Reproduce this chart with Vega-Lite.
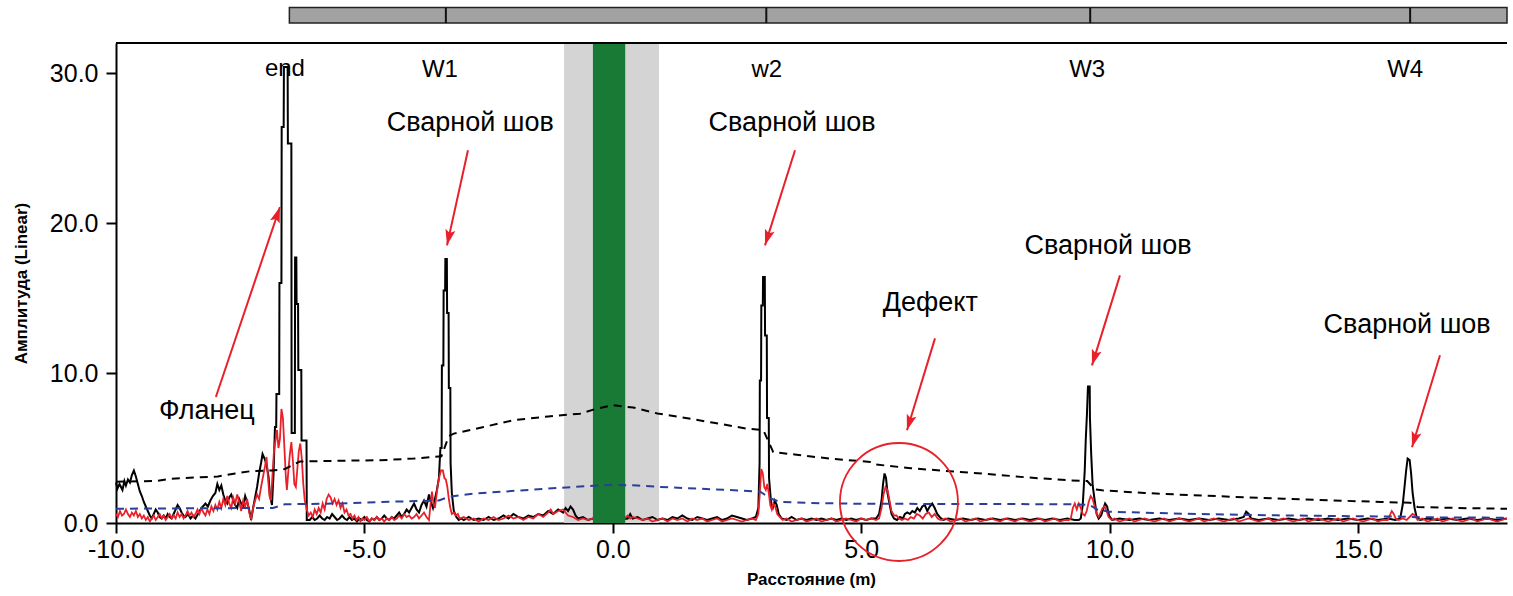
{
  "$schema": "https://vega.github.io/schema/vega-lite/v6.json",
  "width": 1391,
  "height": 480,
  "autosize": {"type": "none"},
  "padding": {"left": 116, "top": 43, "right": 6, "bottom": 73},
  "background": "white",
  "config": {
    "view": {"stroke": null},
    "font": "Liberation Sans",
    "axis": {"grid": false, "domainColor": "#000", "domainWidth": 2, "tickColor": "#000", "tickWidth": 2, "tickSize": 10,
      "labelFont": "Liberation Sans", "labelFontSize": 25, "labelColor": "#000",
      "titleFont": "Liberation Sans", "titleFontSize": 17, "titleFontWeight": "bold", "titleColor": "#000"}
  },
  "datasets": {
    "black": [
      {"x":-10,"y":2.7},{"x":-9.97,"y":2.3},{"x":-9.93,"y":2.6},{"x":-9.9,"y":2.4},{"x":-9.87,"y":2.2},{"x":-9.83,"y":2.8},{"x":-9.8,"y":2.5},{"x":-9.76,"y":2.9},{"x":-9.72,"y":2.7},{"x":-9.68,"y":3.2},{"x":-9.64,"y":3.5},{"x":-9.6,"y":3.1},{"x":-9.56,"y":2.6},{"x":-9.52,"y":2.1},{"x":-9.48,"y":1.8},{"x":-9.44,"y":1.4},{"x":-9.4,"y":1.1},{"x":-9.36,"y":0.8},{"x":-9.32,"y":0.5},{"x":-9.28,"y":0.3},{"x":-9.24,"y":0.6},{"x":-9.2,"y":0.9},{"x":-9.16,"y":0.7},{"x":-9.12,"y":0.4},{"x":-9.08,"y":0.3},{"x":-9.04,"y":0.5},{"x":-9.0,"y":0.3},{"x":-8.96,"y":0.6},{"x":-8.92,"y":0.4},{"x":-8.88,"y":0.3},{"x":-8.84,"y":0.6},{"x":-8.8,"y":0.9},{"x":-8.76,"y":1.2},{"x":-8.72,"y":1.0},{"x":-8.68,"y":0.7},{"x":-8.64,"y":0.5},{"x":-8.6,"y":0.4},{"x":-8.55,"y":0.6},{"x":-8.5,"y":0.3},{"x":-8.45,"y":0.5},{"x":-8.4,"y":0.3},{"x":-8.35,"y":0.6},{"x":-8.3,"y":0.9},{"x":-8.25,"y":1.1},{"x":-8.2,"y":1.3},{"x":-8.15,"y":1.1},{"x":-8.1,"y":1.5},{"x":-8.05,"y":1.8},{"x":-8.0,"y":2.0},{"x":-7.96,"y":2.6},{"x":-7.92,"y":2.2},{"x":-7.88,"y":2.5},{"x":-7.84,"y":1.9},{"x":-7.8,"y":1.5},{"x":-7.76,"y":1.3},{"x":-7.72,"y":1.7},{"x":-7.68,"y":1.9},{"x":-7.64,"y":1.5},{"x":-7.6,"y":1.2},{"x":-7.56,"y":1.0},{"x":-7.52,"y":1.6},{"x":-7.48,"y":1.3},{"x":-7.44,"y":1.1},{"x":-7.4,"y":1.8},{"x":-7.36,"y":1.4},{"x":-7.32,"y":0.9},{"x":-7.28,"y":0.2},{"x":-7.24,"y":1.0},{"x":-7.2,"y":1.7},{"x":-7.16,"y":2.4},{"x":-7.12,"y":3.3},{"x":-7.08,"y":4.0},{"x":-7.05,"y":4.6},{"x":-7.01,"y":4.3},{"x":-6.97,"y":3.9},{"x":-6.93,"y":3.1},{"x":-6.9,"y":1.8},{"x":-6.86,"y":1.2},{"x":-6.83,"y":3.2},{"x":-6.8,"y":6.4},{"x":-6.775,"y":6.4},{"x":-6.77,"y":8.6},{"x":-6.715,"y":8.6},{"x":-6.71,"y":16.0},{"x":-6.67,"y":16.0},{"x":-6.665,"y":26.4},{"x":-6.625,"y":26.4},{"x":-6.62,"y":30.4},{"x":-6.545,"y":30.4},{"x":-6.54,"y":25.3},{"x":-6.47,"y":25.3},{"x":-6.465,"y":6.0},{"x":-6.4,"y":6.0},{"x":-6.395,"y":17.7},{"x":-6.37,"y":17.7},{"x":-6.365,"y":14.6},{"x":-6.335,"y":14.6},{"x":-6.33,"y":10.2},{"x":-6.27,"y":10.2},{"x":-6.265,"y":5.5},{"x":-6.165,"y":5.5},{"x":-6.16,"y":0.2},
      {"x":-6.1,"y":0.2},{"x":-6.05,"y":0.4},{"x":-6.0,"y":0.2},{"x":-5.95,"y":0.3},{"x":-5.9,"y":0.5},{"x":-5.85,"y":0.3},{"x":-5.8,"y":0.2},{"x":-5.75,"y":0.4},{"x":-5.7,"y":0.3},{"x":-5.65,"y":0.6},{"x":-5.6,"y":0.4},{"x":-5.55,"y":0.2},{"x":-5.5,"y":0.3},{"x":-5.45,"y":0.5},{"x":-5.4,"y":0.3},{"x":-5.35,"y":0.2},{"x":-5.3,"y":0.4},{"x":-5.25,"y":0.2},{"x":-5.2,"y":0.3},{"x":-5.15,"y":0.1},{"x":-5.1,"y":0.3},{"x":-5.05,"y":0.2},{"x":-5.0,"y":0.4},{"x":-4.95,"y":0.2},{"x":-4.9,"y":0.1},{"x":-4.85,"y":0.3},{"x":-4.8,"y":0.2},{"x":-4.75,"y":0.4},{"x":-4.7,"y":0.2},{"x":-4.65,"y":0.3},{"x":-4.6,"y":0.5},{"x":-4.55,"y":0.3},{"x":-4.5,"y":0.2},{"x":-4.45,"y":0.4},{"x":-4.4,"y":0.3},{"x":-4.35,"y":0.5},{"x":-4.3,"y":0.7},{"x":-4.25,"y":0.4},{"x":-4.2,"y":0.6},{"x":-4.15,"y":0.9},{"x":-4.1,"y":0.7},{"x":-4.05,"y":1.0},{"x":-4.0,"y":1.3},{"x":-3.95,"y":0.9},{"x":-3.9,"y":0.7},{"x":-3.85,"y":1.2},{"x":-3.8,"y":1.5},{"x":-3.75,"y":1.1},{"x":-3.7,"y":1.9},{"x":-3.66,"y":1.4},{"x":-3.62,"y":1.0},{"x":-3.58,"y":1.6},{"x":-3.54,"y":2.2},{"x":-3.5,"y":3.0},{"x":-3.47,"y":5.0},{"x":-3.445,"y":5.0},{"x":-3.44,"y":10.5},{"x":-3.41,"y":10.5},{"x":-3.405,"y":15.5},{"x":-3.375,"y":15.5},{"x":-3.37,"y":17.6},{"x":-3.34,"y":17.6},{"x":-3.335,"y":14.0},{"x":-3.305,"y":14.0},{"x":-3.3,"y":9.0},{"x":-3.27,"y":9.0},{"x":-3.265,"y":4.0},{"x":-3.24,"y":2.0},{"x":-3.2,"y":0.8},{"x":-3.15,"y":0.4},{"x":-3.1,"y":0.2},
      {"x":-3.05,"y":0.3},{"x":-3.0,"y":0.2},{"x":-2.9,"y":0.4},{"x":-2.8,"y":0.2},{"x":-2.7,"y":0.3},{"x":-2.6,"y":0.2},{"x":-2.5,"y":0.4},{"x":-2.4,"y":0.2},{"x":-2.3,"y":0.3},{"x":-2.2,"y":0.5},{"x":-2.1,"y":0.3},{"x":-2.0,"y":0.6},{"x":-1.9,"y":0.4},{"x":-1.8,"y":0.3},{"x":-1.7,"y":0.5},{"x":-1.6,"y":0.4},{"x":-1.5,"y":0.6},{"x":-1.4,"y":0.5},{"x":-1.3,"y":0.8},{"x":-1.2,"y":0.6},{"x":-1.1,"y":0.9},{"x":-1.0,"y":0.7},{"x":-0.95,"y":1.0},{"x":-0.9,"y":0.8},{"x":-0.85,"y":1.1},{"x":-0.8,"y":0.9},{"x":-0.75,"y":0.5},{"x":-0.7,"y":0.3},{"x":-0.6,"y":0.4},{"x":-0.5,"y":0.2},{"x":-0.4,"y":0.3},{"x":0.0,"y":0.2},{"x":0.3,"y":0.3},{"x":0.35,"y":0.6},{"x":0.4,"y":0.3},{"x":0.5,"y":0.4},{"x":0.6,"y":0.2},{"x":0.7,"y":0.3},{"x":0.8,"y":0.4},{"x":0.9,"y":0.2},{"x":1.0,"y":0.3},{"x":1.1,"y":0.2},{"x":1.2,"y":0.4},{"x":1.3,"y":0.3},{"x":1.4,"y":0.5},{"x":1.5,"y":0.3},{"x":1.6,"y":0.2},{"x":1.7,"y":0.4},{"x":1.8,"y":0.3},{"x":1.9,"y":0.2},{"x":2.0,"y":0.3},{"x":2.1,"y":0.4},{"x":2.2,"y":0.2},{"x":2.3,"y":0.3},{"x":2.4,"y":0.5},{"x":2.5,"y":0.4},{"x":2.6,"y":0.3},{"x":2.7,"y":0.2},{"x":2.8,"y":0.3},{"x":2.88,"y":0.4},
      {"x":2.93,"y":1.0},{"x":2.955,"y":4.0},{"x":2.96,"y":9.5},{"x":2.985,"y":9.5},{"x":2.99,"y":14.5},{"x":3.02,"y":14.5},{"x":3.025,"y":16.4},{"x":3.06,"y":16.4},{"x":3.065,"y":12.5},{"x":3.1,"y":12.5},{"x":3.105,"y":7.0},{"x":3.14,"y":7.0},{"x":3.145,"y":3.0},{"x":3.19,"y":1.2},{"x":3.22,"y":1.0},{"x":3.26,"y":1.5},{"x":3.3,"y":1.2},{"x":3.34,"y":0.6},{"x":3.4,"y":0.3},
      {"x":3.5,"y":0.2},{"x":3.6,"y":0.4},{"x":3.7,"y":0.2},{"x":3.8,"y":0.3},{"x":3.9,"y":0.2},{"x":4.0,"y":0.3},{"x":4.1,"y":0.2},{"x":4.2,"y":0.3},{"x":4.3,"y":0.2},{"x":4.4,"y":0.3},{"x":4.5,"y":0.2},{"x":4.6,"y":0.3},{"x":4.7,"y":0.2},{"x":4.8,"y":0.3},{"x":4.9,"y":0.2},{"x":5.0,"y":0.3},{"x":5.1,"y":0.2},{"x":5.2,"y":0.3},{"x":5.3,"y":0.3},
      {"x":5.36,"y":0.6},{"x":5.41,"y":1.5},{"x":5.44,"y":2.6},{"x":5.47,"y":3.3},{"x":5.5,"y":3.0},{"x":5.53,"y":2.0},{"x":5.57,"y":1.3},{"x":5.61,"y":0.6},{"x":5.66,"y":0.3},{"x":5.72,"y":0.2},{"x":5.78,"y":0.4},{"x":5.84,"y":0.3},{"x":5.88,"y":0.6},{"x":5.93,"y":0.7},{"x":5.98,"y":0.6},{"x":6.03,"y":0.8},{"x":6.08,"y":0.7},{"x":6.13,"y":1.0},{"x":6.18,"y":0.8},{"x":6.23,"y":1.1},{"x":6.28,"y":1.2},{"x":6.33,"y":0.8},{"x":6.38,"y":1.1},{"x":6.43,"y":1.3},{"x":6.48,"y":1.0},{"x":6.53,"y":0.6},{"x":6.58,"y":0.4},{"x":6.65,"y":0.2},
      {"x":6.75,"y":0.3},{"x":6.9,"y":0.2},{"x":7.05,"y":0.3},{"x":7.2,"y":0.2},{"x":7.35,"y":0.3},{"x":7.5,"y":0.2},{"x":7.65,"y":0.3},{"x":7.8,"y":0.2},{"x":7.95,"y":0.3},{"x":8.1,"y":0.2},{"x":8.25,"y":0.3},{"x":8.4,"y":0.2},{"x":8.55,"y":0.3},{"x":8.7,"y":0.2},{"x":8.85,"y":0.3},{"x":9.0,"y":0.2},{"x":9.15,"y":0.3},{"x":9.3,"y":0.2},{"x":9.38,"y":0.2},
      {"x":9.42,"y":0.3},{"x":9.46,"y":1.2},{"x":9.5,"y":3.5},{"x":9.52,"y":5.5},{"x":9.545,"y":7.3},{"x":9.565,"y":9.1},{"x":9.6,"y":9.1},{"x":9.605,"y":7.0},{"x":9.63,"y":4.6},{"x":9.66,"y":2.5},{"x":9.7,"y":1.5},{"x":9.74,"y":0.6},{"x":9.78,"y":0.3},{"x":9.83,"y":0.5},{"x":9.87,"y":0.9},{"x":9.91,"y":1.3},{"x":9.95,"y":1.1},{"x":9.99,"y":0.5},{"x":10.05,"y":0.2},
      {"x":10.2,"y":0.3},{"x":10.4,"y":0.2},{"x":10.6,"y":0.3},{"x":10.8,"y":0.2},{"x":11.0,"y":0.3},{"x":11.2,"y":0.2},{"x":11.4,"y":0.3},{"x":11.6,"y":0.2},{"x":11.8,"y":0.3},{"x":12.0,"y":0.2},{"x":12.2,"y":0.3},{"x":12.4,"y":0.2},{"x":12.6,"y":0.3},{"x":12.7,"y":0.4},{"x":12.75,"y":0.75},{"x":12.8,"y":0.6},{"x":12.85,"y":0.3},{"x":13.0,"y":0.2},{"x":13.2,"y":0.3},{"x":13.4,"y":0.2},{"x":13.6,"y":0.3},{"x":13.8,"y":0.2},{"x":14.0,"y":0.3},{"x":14.2,"y":0.2},{"x":14.4,"y":0.3},{"x":14.6,"y":0.2},{"x":14.8,"y":0.3},{"x":15.0,"y":0.2},{"x":15.2,"y":0.3},{"x":15.4,"y":0.2},{"x":15.6,"y":0.3},{"x":15.75,"y":0.2},{"x":15.85,"y":0.3},
      {"x":15.9,"y":1.2},{"x":15.94,"y":2.5},{"x":15.97,"y":3.5},{"x":16.0,"y":4.3},{"x":16.04,"y":4.2},{"x":16.07,"y":3.3},{"x":16.1,"y":2.0},{"x":16.14,"y":1.0},{"x":16.18,"y":0.4},{"x":16.25,"y":0.2},{"x":16.4,"y":0.3},{"x":16.6,"y":0.2},{"x":16.8,"y":0.3},{"x":17.0,"y":0.2},{"x":17.2,"y":0.3},{"x":17.4,"y":0.2},{"x":17.6,"y":0.3},{"x":17.8,"y":0.2},{"x":18.0,"y":0.3}
    ],
    "red": [
      {"x":-10,"y":0.6},{"x":-9.96,"y":0.4},{"x":-9.92,"y":0.8},{"x":-9.88,"y":0.5},{"x":-9.84,"y":0.6},{"x":-9.8,"y":0.9},{"x":-9.76,"y":0.6},{"x":-9.72,"y":0.4},{"x":-9.68,"y":0.7},{"x":-9.64,"y":0.5},{"x":-9.6,"y":0.8},{"x":-9.56,"y":0.4},{"x":-9.52,"y":0.6},{"x":-9.48,"y":0.3},{"x":-9.44,"y":0.5},{"x":-9.4,"y":0.2},{"x":-9.36,"y":0.4},{"x":-9.32,"y":0.1},{"x":-9.28,"y":0.3},{"x":-9.24,"y":0.5},{"x":-9.2,"y":0.2},{"x":-9.16,"y":0.4},{"x":-9.12,"y":0.6},{"x":-9.08,"y":0.3},{"x":-9.04,"y":0.5},{"x":-9.0,"y":0.2},{"x":-8.96,"y":0.4},{"x":-8.92,"y":0.6},{"x":-8.88,"y":0.3},{"x":-8.84,"y":0.5},{"x":-8.8,"y":0.3},{"x":-8.76,"y":0.7},{"x":-8.72,"y":0.4},{"x":-8.68,"y":0.6},{"x":-8.64,"y":0.3},{"x":-8.6,"y":0.5},{"x":-8.56,"y":0.8},{"x":-8.52,"y":0.5},{"x":-8.48,"y":0.7},{"x":-8.44,"y":0.4},{"x":-8.4,"y":0.6},{"x":-8.36,"y":0.9},{"x":-8.32,"y":0.6},{"x":-8.28,"y":1.0},{"x":-8.24,"y":0.7},{"x":-8.2,"y":0.5},{"x":-8.16,"y":0.9},{"x":-8.12,"y":0.6},{"x":-8.08,"y":1.1},{"x":-8.04,"y":0.8},{"x":-8.0,"y":1.2},{"x":-7.96,"y":0.9},{"x":-7.92,"y":1.4},{"x":-7.88,"y":1.0},{"x":-7.84,"y":1.6},{"x":-7.8,"y":1.2},{"x":-7.76,"y":1.8},{"x":-7.72,"y":1.3},{"x":-7.68,"y":1.0},{"x":-7.64,"y":1.7},{"x":-7.6,"y":1.3},{"x":-7.56,"y":1.9},{"x":-7.52,"y":1.4},{"x":-7.48,"y":0.8},{"x":-7.44,"y":1.5},{"x":-7.4,"y":1.1},{"x":-7.36,"y":1.6},{"x":-7.32,"y":0.7},{"x":-7.28,"y":0.3},{"x":-7.24,"y":1.0},{"x":-7.2,"y":1.5},{"x":-7.16,"y":1.9},{"x":-7.12,"y":1.6},{"x":-7.08,"y":2.4},{"x":-7.04,"y":3.1},{"x":-7.0,"y":3.8},{"x":-6.97,"y":4.4},{"x":-6.94,"y":3.0},{"x":-6.91,"y":1.8},{"x":-6.88,"y":1.5},{"x":-6.85,"y":3.2},{"x":-6.82,"y":4.8},{"x":-6.79,"y":5.5},{"x":-6.76,"y":6.2},{"x":-6.73,"y":5.0},{"x":-6.7,"y":5.6},{"x":-6.67,"y":7.6},{"x":-6.64,"y":7.0},{"x":-6.61,"y":5.0},{"x":-6.58,"y":3.0},{"x":-6.56,"y":2.2},{"x":-6.53,"y":3.5},{"x":-6.5,"y":4.6},{"x":-6.47,"y":5.4},{"x":-6.44,"y":4.2},{"x":-6.41,"y":2.6},{"x":-6.38,"y":2.4},{"x":-6.35,"y":3.6},{"x":-6.32,"y":4.8},{"x":-6.29,"y":5.3},{"x":-6.26,"y":4.3},{"x":-6.23,"y":2.6},{"x":-6.2,"y":1.5},{"x":-6.16,"y":0.9},{"x":-6.12,"y":0.5},{"x":-6.08,"y":0.7},{"x":-6.04,"y":0.4},{"x":-6.0,"y":0.9},{"x":-5.96,"y":0.6},{"x":-5.92,"y":1.0},{"x":-5.88,"y":0.7},{"x":-5.84,"y":1.3},{"x":-5.8,"y":0.9},{"x":-5.76,"y":1.6},{"x":-5.72,"y":1.9},{"x":-5.68,"y":1.7},{"x":-5.64,"y":1.3},{"x":-5.6,"y":1.6},{"x":-5.56,"y":1.2},{"x":-5.52,"y":1.5},{"x":-5.48,"y":1.0},{"x":-5.44,"y":1.3},{"x":-5.4,"y":0.7},{"x":-5.36,"y":0.9},{"x":-5.32,"y":0.5},{"x":-5.28,"y":0.6},{"x":-5.24,"y":0.3},{"x":-5.2,"y":0.5},{"x":-5.16,"y":0.2},{"x":-5.12,"y":0.4},{"x":-5.08,"y":0.1},{"x":-5.04,"y":0.3},{"x":-5.0,"y":0.2},{"x":-4.95,"y":0.4},{"x":-4.9,"y":0.1},{"x":-4.85,"y":0.3},{"x":-4.8,"y":0.2},{"x":-4.75,"y":0.4},{"x":-4.7,"y":0.2},{"x":-4.65,"y":0.3},{"x":-4.6,"y":0.1},{"x":-4.55,"y":0.3},{"x":-4.5,"y":0.2},{"x":-4.45,"y":0.4},{"x":-4.4,"y":0.2},{"x":-4.35,"y":0.3},{"x":-4.3,"y":0.5},{"x":-4.25,"y":0.3},{"x":-4.2,"y":0.6},{"x":-4.15,"y":0.4},{"x":-4.1,"y":0.5},{"x":-4.05,"y":0.3},{"x":-4.0,"y":0.4},{"x":-3.95,"y":0.6},{"x":-3.9,"y":0.3},{"x":-3.85,"y":0.5},{"x":-3.8,"y":0.7},{"x":-3.75,"y":0.4},{"x":-3.7,"y":0.2},{"x":-3.67,"y":1.2},{"x":-3.64,"y":2.1},{"x":-3.61,"y":1.3},{"x":-3.58,"y":1.0},{"x":-3.55,"y":1.8},{"x":-3.52,"y":2.6},{"x":-3.49,"y":3.1},{"x":-3.46,"y":3.5},{"x":-3.42,"y":3.5},{"x":-3.39,"y":3.0},{"x":-3.36,"y":2.9},{"x":-3.33,"y":2.4},{"x":-3.3,"y":1.6},{"x":-3.27,"y":1.0},{"x":-3.24,"y":0.6},{"x":-3.2,"y":0.7},{"x":-3.16,"y":0.5},{"x":-3.12,"y":0.6},{"x":-3.08,"y":0.3},{"x":-3.0,"y":0.4},{"x":-2.9,"y":0.2},{"x":-2.8,"y":0.3},{"x":-2.7,"y":0.1},{"x":-2.6,"y":0.3},{"x":-2.5,"y":0.2},{"x":-2.4,"y":0.4},{"x":-2.3,"y":0.2},{"x":-2.2,"y":0.3},{"x":-2.1,"y":0.5},{"x":-2.0,"y":0.3},{"x":-1.9,"y":0.4},{"x":-1.8,"y":0.2},{"x":-1.7,"y":0.4},{"x":-1.6,"y":0.3},{"x":-1.5,"y":0.6},{"x":-1.4,"y":0.4},{"x":-1.3,"y":0.7},{"x":-1.25,"y":0.9},{"x":-1.2,"y":0.6},{"x":-1.1,"y":0.8},{"x":-1.0,"y":0.9},{"x":-0.95,"y":0.7},{"x":-0.9,"y":0.5},{"x":-0.8,"y":0.4},{"x":-0.7,"y":0.2},{"x":-0.6,"y":0.3},{"x":-0.5,"y":0.2},{"x":-0.4,"y":0.3},{"x":-0.2,"y":0.2},{"x":0.0,"y":0.1},{"x":0.2,"y":0.2},{"x":0.3,"y":0.5},{"x":0.35,"y":0.3},{"x":0.4,"y":0.4},{"x":0.5,"y":0.3},{"x":0.6,"y":0.2},{"x":0.7,"y":0.3},{"x":0.8,"y":0.1},{"x":0.9,"y":0.2},{"x":1.0,"y":0.3},{"x":1.1,"y":0.1},{"x":1.2,"y":0.3},{"x":1.3,"y":0.2},{"x":1.4,"y":0.3},{"x":1.5,"y":0.1},{"x":1.6,"y":0.3},{"x":1.7,"y":0.2},{"x":1.8,"y":0.3},{"x":1.9,"y":0.1},{"x":2.0,"y":0.2},{"x":2.1,"y":0.3},{"x":2.2,"y":0.1},{"x":2.3,"y":0.2},{"x":2.4,"y":0.3},{"x":2.5,"y":0.2},{"x":2.6,"y":0.1},{"x":2.7,"y":0.2},{"x":2.8,"y":0.3},{"x":2.88,"y":0.2},{"x":2.93,"y":0.6},{"x":2.96,"y":2.0},{"x":2.99,"y":3.6},{"x":3.02,"y":3.3},{"x":3.05,"y":2.4},{"x":3.08,"y":2.2},{"x":3.11,"y":2.6},{"x":3.14,"y":2.0},{"x":3.17,"y":1.2},{"x":3.2,"y":0.9},{"x":3.23,"y":1.3},{"x":3.27,"y":1.1},{"x":3.31,"y":0.6},{"x":3.36,"y":0.4},{"x":3.42,"y":0.2},{"x":3.5,"y":0.3},{"x":3.6,"y":0.1},{"x":3.7,"y":0.2},{"x":3.8,"y":0.3},{"x":3.9,"y":0.1},{"x":4.0,"y":0.2},{"x":4.1,"y":0.3},{"x":4.2,"y":0.1},{"x":4.3,"y":0.2},{"x":4.4,"y":0.3},{"x":4.5,"y":0.1},{"x":4.6,"y":0.2},{"x":4.7,"y":0.3},{"x":4.8,"y":0.2},{"x":4.9,"y":0.1},{"x":5.0,"y":0.3},{"x":5.1,"y":0.2},{"x":5.2,"y":0.3},{"x":5.3,"y":0.2},{"x":5.36,"y":0.3},{"x":5.41,"y":1.0},{"x":5.45,"y":1.9},{"x":5.49,"y":2.4},{"x":5.53,"y":2.2},{"x":5.57,"y":1.5},{"x":5.61,"y":0.8},{"x":5.66,"y":0.5},{"x":5.71,"y":0.5},{"x":5.76,"y":0.3},{"x":5.82,"y":0.2},{"x":5.88,"y":0.3},{"x":5.94,"y":0.2},{"x":6.0,"y":0.4},{"x":6.06,"y":0.3},{"x":6.12,"y":0.6},{"x":6.18,"y":0.5},{"x":6.24,"y":0.3},{"x":6.3,"y":0.6},{"x":6.36,"y":0.7},{"x":6.42,"y":0.4},{"x":6.48,"y":0.6},{"x":6.54,"y":0.3},{"x":6.6,"y":0.2},{"x":6.7,"y":0.3},{"x":6.8,"y":0.1},{"x":6.9,"y":0.2},{"x":7.0,"y":0.3},{"x":7.1,"y":0.1},{"x":7.2,"y":0.2},{"x":7.3,"y":0.3},{"x":7.4,"y":0.1},{"x":7.5,"y":0.2},{"x":7.6,"y":0.3},{"x":7.7,"y":0.2},{"x":7.8,"y":0.1},{"x":7.9,"y":0.3},{"x":8.0,"y":0.2},{"x":8.1,"y":0.1},{"x":8.2,"y":0.3},{"x":8.3,"y":0.2},{"x":8.4,"y":0.1},{"x":8.5,"y":0.2},{"x":8.6,"y":0.3},{"x":8.7,"y":0.1},{"x":8.8,"y":0.2},{"x":8.9,"y":0.3},{"x":9.0,"y":0.1},{"x":9.1,"y":0.2},{"x":9.18,"y":0.2},{"x":9.22,"y":0.3},{"x":9.26,"y":1.0},{"x":9.3,"y":1.3},{"x":9.34,"y":0.9},{"x":9.38,"y":1.3},{"x":9.42,"y":1.0},{"x":9.46,"y":0.6},{"x":9.5,"y":0.5},{"x":9.54,"y":0.8},{"x":9.58,"y":1.4},{"x":9.62,"y":1.8},{"x":9.66,"y":1.6},{"x":9.7,"y":1.1},{"x":9.74,"y":0.6},{"x":9.78,"y":0.4},{"x":9.82,"y":0.7},{"x":9.86,"y":1.0},{"x":9.9,"y":1.1},{"x":9.94,"y":0.8},{"x":9.98,"y":0.4},{"x":10.04,"y":0.2},{"x":10.1,"y":0.3},{"x":10.2,"y":0.1},{"x":10.3,"y":0.2},{"x":10.4,"y":0.3},{"x":10.5,"y":0.1},{"x":10.6,"y":0.2},{"x":10.7,"y":0.3},{"x":10.8,"y":0.2},{"x":10.9,"y":0.1},{"x":11.0,"y":0.2},{"x":11.1,"y":0.3},{"x":11.2,"y":0.1},{"x":11.3,"y":0.2},{"x":11.4,"y":0.3},{"x":11.5,"y":0.2},{"x":11.6,"y":0.1},{"x":11.7,"y":0.2},{"x":11.8,"y":0.3},{"x":11.9,"y":0.1},{"x":12.0,"y":0.2},{"x":12.1,"y":0.3},{"x":12.2,"y":0.2},{"x":12.3,"y":0.1},{"x":12.4,"y":0.2},{"x":12.5,"y":0.3},{"x":12.6,"y":0.1},{"x":12.7,"y":0.2},{"x":12.8,"y":0.3},{"x":12.9,"y":0.2},{"x":13.0,"y":0.1},{"x":13.1,"y":0.2},{"x":13.2,"y":0.3},{"x":13.3,"y":0.1},{"x":13.4,"y":0.2},{"x":13.5,"y":0.3},{"x":13.6,"y":0.2},{"x":13.7,"y":0.1},{"x":13.8,"y":0.2},{"x":13.9,"y":0.3},{"x":14.0,"y":0.1},{"x":14.1,"y":0.2},{"x":14.2,"y":0.3},{"x":14.3,"y":0.2},{"x":14.4,"y":0.1},{"x":14.5,"y":0.2},{"x":14.6,"y":0.3},{"x":14.7,"y":0.1},{"x":14.8,"y":0.2},{"x":14.9,"y":0.3},{"x":15.0,"y":0.2},{"x":15.1,"y":0.1},{"x":15.2,"y":0.2},{"x":15.3,"y":0.3},{"x":15.4,"y":0.1},{"x":15.5,"y":0.2},{"x":15.6,"y":0.2},{"x":15.64,"y":0.5},{"x":15.68,"y":0.8},{"x":15.72,"y":0.6},{"x":15.76,"y":0.3},{"x":15.82,"y":0.2},{"x":15.9,"y":0.3},{"x":15.98,"y":0.2},{"x":16.04,"y":0.4},{"x":16.1,"y":0.6},{"x":16.15,"y":0.5},{"x":16.2,"y":0.2},{"x":16.3,"y":0.3},{"x":16.4,"y":0.1},{"x":16.5,"y":0.2},{"x":16.6,"y":0.3},{"x":16.7,"y":0.1},{"x":16.8,"y":0.2},{"x":16.9,"y":0.3},{"x":17.0,"y":0.2},{"x":17.1,"y":0.1},{"x":17.2,"y":0.2},{"x":17.3,"y":0.3},{"x":17.4,"y":0.1},{"x":17.5,"y":0.2},{"x":17.6,"y":0.3},{"x":17.7,"y":0.2},{"x":17.8,"y":0.1},{"x":17.9,"y":0.2},{"x":18.0,"y":0.3}
    ],
    "thr": [
      {"x":-10,"y":2.75},{"x":-9.2,"y":2.8},{"x":-8.9,"y":2.95},{"x":-8.3,"y":3.05},{"x":-7.95,"y":3.1},{"x":-7.6,"y":3.3},{"x":-7.3,"y":3.45},{"x":-6.85,"y":3.5},{"x":-6.6,"y":3.6},{"x":-6.3,"y":4.1},{"x":-5.5,"y":4.15},{"x":-4.7,"y":4.18},{"x":-4.0,"y":4.3},{"x":-3.45,"y":4.45},{"x":-3.3,"y":5.8},{"x":-3.2,"y":5.96},{"x":-2.6,"y":6.4},{"x":-2.0,"y":6.85},{"x":-1.3,"y":7.1},{"x":-0.66,"y":7.29},{"x":-0.35,"y":7.6},{"x":0.0,"y":7.85},{"x":0.41,"y":7.7},{"x":0.9,"y":7.3},{"x":1.35,"y":7.07},{"x":2.0,"y":6.7},{"x":2.7,"y":6.29},{"x":3.03,"y":6.2},{"x":3.23,"y":4.73},{"x":3.7,"y":4.55},{"x":4.37,"y":4.29},{"x":5.18,"y":4.07},{"x":5.3,"y":3.9},{"x":6.0,"y":3.65},{"x":7.0,"y":3.4},{"x":7.49,"y":3.29},{"x":8.3,"y":3.05},{"x":9.16,"y":2.85},{"x":9.55,"y":2.8},{"x":9.7,"y":2.25},{"x":9.85,"y":2.18},{"x":10.7,"y":2.0},{"x":11.68,"y":1.85},{"x":13.5,"y":1.62},{"x":15.46,"y":1.4},{"x":16.05,"y":1.35},{"x":16.2,"y":1.07},{"x":17.0,"y":1.0},{"x":18,"y":0.95}
    ],
    "dac": [
      {"x":-10,"y":0.95},{"x":-8.5,"y":0.98},{"x":-7.0,"y":1.0},{"x":-6.84,"y":1.0},{"x":-6.6,"y":1.25},{"x":-5.5,"y":1.3},{"x":-4.7,"y":1.4},{"x":-3.5,"y":1.5},{"x":-3.3,"y":1.75},{"x":-2.81,"y":1.96},{"x":-1.5,"y":2.25},{"x":-0.32,"y":2.5},{"x":0.0,"y":2.55},{"x":0.5,"y":2.5},{"x":0.95,"y":2.4},{"x":2.0,"y":2.25},{"x":2.96,"y":2.1},{"x":3.2,"y":1.6},{"x":3.37,"y":1.4},{"x":4.2,"y":1.32},{"x":5.04,"y":1.28},{"x":7.0,"y":1.27},{"x":9.16,"y":1.25},{"x":9.6,"y":1.2},{"x":9.75,"y":0.9},{"x":10.0,"y":0.75},{"x":11.5,"y":0.62},{"x":13.37,"y":0.51},{"x":15.0,"y":0.45},{"x":16.0,"y":0.42},{"x":16.2,"y":0.38},{"x":17.55,"y":0.36},{"x":18,"y":0.35}
    ],
    "welds": [
      {"name":"end","x":-6.6,"y":30.25},{"name":"W1","x":-3.48,"y":30.2},{"name":"w2","x":3.1,"y":30.2},{"name":"W3","x":9.55,"y":30.2},{"name":"W4","x":15.95,"y":30.2}
    ],
    "notes": [
      {"t":"Сварной шов","x":-2.87,"y":26.7},{"t":"Сварной шов","x":3.61,"y":26.7},{"t":"Дефект","x":6.39,"y":14.7},{"t":"Сварной шов","x":9.97,"y":18.5},{"t":"Сварной шов","x":15.99,"y":13.2},{"t":"Фланец","x":-8.17,"y":7.5}
    ],
    "arrows": [
      {"tx":-2.915,"ty":24.85,"hx":-3.337,"hy":18.51},{"tx":3.668,"ty":24.85,"hx":3.064,"hy":18.51},{"tx":6.486,"ty":12.31,"hx":5.922,"hy":6.18},{"tx":10.209,"ty":16.51,"hx":9.646,"hy":10.51},{"tx":16.651,"ty":11.18,"hx":16.087,"hy":5.05},{"tx":-7.99,"ty":8.4,"hx":-6.70,"hy":21.07}
    ],
    "dividers": [{"x":-3.36},{"x":3.09},{"x":9.61},{"x":16.05}]
  },
  "layer": [
    {
      "data": {"values": [{"a": -0.98, "b": 0.93}]},
      "mark": {"type": "rect", "color": "#d4d4d4"},
      "encoding": {
        "x": {"field": "a", "type": "quantitative", "scale": {"domain": [-10, 18], "nice": false, "zero": false}},
        "x2": {"field": "b"}
      }
    },
    {
      "data": {"name": "black"},
      "mark": {"type": "line", "color": "#000000", "strokeWidth": 2},
      "encoding": {
        "x": {"field": "x", "type": "quantitative", "scale": {"domain": [-10, 18], "nice": false, "zero": false},
          "axis": {"values": [-10, -5, 0, 5, 10, 15], "format": ".1f", "labelExpr": "replace(datum.label, '\u2212', '-')", "title": "Расстояние (m)",
            "labelPadding": 4, "labelFlush": false, "labelOverlap": false,
            "titleX": 695, "titleY": 56, "titleBaseline": "middle", "titleAlign": "center"}},
        "y": {"field": "y", "type": "quantitative", "scale": {"domain": [0, 32], "nice": false},
          "axis": {"values": [0, 10, 20, 30], "format": ".1f", "title": "Амплитуда (Linear)",
            "labelPadding": 8, "labelOverlap": false,
            "titleX": -95, "titleY": 240, "titleAngle": -90, "titleBaseline": "middle", "titleAlign": "center"}}
      }
    },
    {
      "data": {"name": "red"},
      "mark": {"type": "line", "color": "#e8202a", "strokeWidth": 1.8},
      "encoding": {
        "x": {"field": "x", "type": "quantitative"},
        "y": {"field": "y", "type": "quantitative"}
      }
    },
    {
      "data": {"values": [{"a": -0.40, "b": 0.25}]},
      "mark": {"type": "rect", "color": "#187a34"},
      "encoding": {
        "x": {"field": "a", "type": "quantitative"},
        "x2": {"field": "b"}
      }
    },
    {
      "data": {"name": "thr"},
      "mark": {"type": "line", "color": "#000000", "strokeWidth": 2, "strokeDash": [8, 6]},
      "encoding": {
        "x": {"field": "x", "type": "quantitative"},
        "y": {"field": "y", "type": "quantitative"}
      }
    },
    {
      "data": {"name": "dac"},
      "mark": {"type": "line", "color": "#2a3f9c", "strokeWidth": 2, "strokeDash": [8, 6]},
      "encoding": {
        "x": {"field": "x", "type": "quantitative"},
        "y": {"field": "y", "type": "quantitative"}
      }
    },
    {
      "data": {"values": [{"top": 32}]},
      "mark": {"type": "rule", "color": "#000", "strokeWidth": 2},
      "encoding": {
        "y": {"field": "top", "type": "quantitative"}
      }
    },
    {
      "data": {"values": [{"a": -6.51, "b": 18, "c": 33.33, "d": 34.36}]},
      "mark": {"type": "rect", "color": "#a2a2a2", "stroke": "#222", "strokeWidth": 1.5},
      "encoding": {
        "x": {"field": "a", "type": "quantitative"},
        "x2": {"field": "b"},
        "y": {"field": "c", "type": "quantitative"},
        "y2": {"field": "d"}
      }
    },
    {
      "data": {"name": "dividers"},
      "mark": {"type": "rule", "color": "#111", "strokeWidth": 2},
      "encoding": {
        "x": {"field": "x", "type": "quantitative"},
        "y": {"datum": 33.33},
        "y2": {"datum": 34.36}
      }
    },
    {
      "data": {"name": "welds"},
      "mark": {"type": "text", "font": "Liberation Sans", "fontSize": 24, "color": "#000", "baseline": "middle", "align": "center"},
      "encoding": {
        "x": {"field": "x", "type": "quantitative"},
        "y": {"field": "y", "type": "quantitative"},
        "text": {"field": "name"}
      }
    },
    {
      "data": {"name": "notes"},
      "mark": {"type": "text", "font": "Liberation Sans", "fontSize": 27, "color": "#000", "baseline": "middle", "align": "center"},
      "encoding": {
        "x": {"field": "x", "type": "quantitative"},
        "y": {"field": "y", "type": "quantitative"},
        "text": {"field": "t"}
      }
    },
    {
      "data": {"name": "arrows"},
      "mark": {"type": "rule", "color": "#e8202a", "strokeWidth": 2},
      "encoding": {
        "x": {"field": "tx", "type": "quantitative"},
        "y": {"field": "ty", "type": "quantitative"},
        "x2": {"field": "hx"},
        "y2": {"field": "hy"}
      }
    },
    {
      "data": {"name": "arrows"},
      "transform": [{"calculate": "atan2((datum.hx - datum.tx) * 49.68, (datum.hy - datum.ty) * 15) * 180 / PI", "as": "ang"}],
      "mark": {"type": "point", "shape": "M0,0L-0.32,1L0,0.8L0.32,1Z", "filled": true, "color": "#e8202a", "size": 1000, "opacity": 1},
      "encoding": {
        "x": {"field": "hx", "type": "quantitative"},
        "y": {"field": "hy", "type": "quantitative"},
        "angle": {"field": "ang", "type": "quantitative", "scale": null}
      }
    },
    {
      "data": {"values": [{"cx": 5.76, "cy": 1.4}]},
      "mark": {"type": "point", "shape": "circle", "filled": false, "color": "#e8202a", "strokeWidth": 1.8, "size": 13924, "opacity": 1},
      "encoding": {
        "x": {"field": "cx", "type": "quantitative"},
        "y": {"field": "cy", "type": "quantitative"}
      }
    }
  ]
}
